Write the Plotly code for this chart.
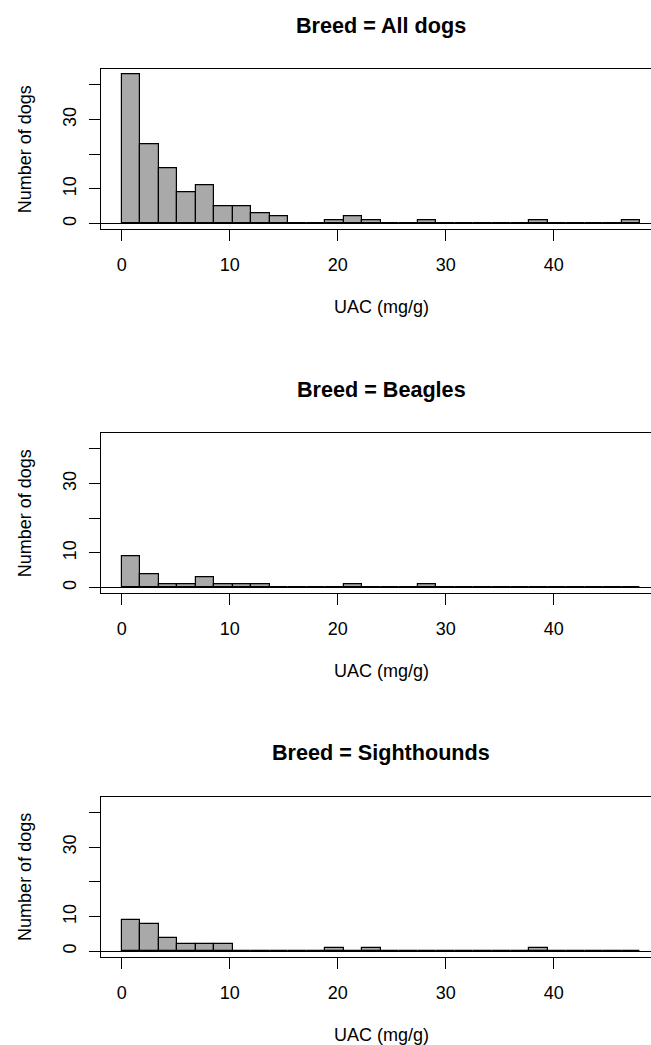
import plotly.graph_objects as go

# ---- data ----
BIN_WIDTH = 1.714          # histogram break spacing in UAC (mg/g)
N_BINS = 28
bin_left_edges = [i * BIN_WIDTH for i in range(N_BINS)]

panel_titles = ["Breed = All dogs", "Breed = Beagles", "Breed = Sighthounds"]

counts_all = [43, 23, 16, 9, 11, 5, 5, 3, 2, 0, 0, 1, 2, 1, 0, 0, 1, 0, 0, 0, 0, 0, 1, 0, 0, 0, 0, 1]
counts_beagles = [9, 4, 1, 1, 3, 1, 1, 1, 0, 0, 0, 0, 1, 0, 0, 0, 1, 0, 0, 0, 0, 0, 0, 0, 0, 0, 0, 0]
counts_sight = [9, 8, 4, 2, 2, 2, 0, 0, 0, 0, 0, 1, 0, 1, 0, 0, 0, 0, 0, 0, 0, 0, 1, 0, 0, 0, 0, 0]
panel_counts = [counts_all, counts_beagles, counts_sight]

x_tick_vals = [0, 10, 20, 30, 40]
x_tick_text = ["0", "10", "20", "30", "40"]
y_tick_vals = [0, 10, 20, 30, 40]
y_tick_text = ["0", "10", "", "30", ""]

x_title = "UAC (mg/g)"
y_title = "Number of dogs"

# ---- layout constants ----
W, H = 651, 1045
BOX_LEFT = 101
box_tops = [69.3, 433.3, 796.9]
BOX_H = 160.0
X_RANGE = [-1.917, 49.0]
Y_RANGE = [-1.62, 44.5]
FONT = "Liberation Sans, Arial, sans-serif"
BAR_FILL = "#A9A9A9"

fig = go.Figure()
annotations = []
centers = [e + BIN_WIDTH / 2 for e in bin_left_edges]

for i, (title, counts) in enumerate(zip(panel_titles, panel_counts)):
    idx = "" if i == 0 else str(i + 1)
    top = box_tops[i]
    bottom = top + BOX_H
    fig.add_trace(go.Bar(
        x=centers, y=counts, width=BIN_WIDTH,
        marker=dict(color=BAR_FILL, line=dict(color="black", width=1.2)),
        xaxis="x" + idx, yaxis="y" + idx, showlegend=False,
        hoverinfo="x+y",
    ))
    dom_y = [1 - bottom / H, 1 - top / H]
    fig.update_layout(**{
        "xaxis" + idx: dict(
            domain=[BOX_LEFT / W, 1.0], range=X_RANGE, anchor="y" + idx,
            showline=True, linecolor="black", linewidth=1.3, mirror=True,
            ticks="outside", ticklen=11, tickwidth=1.3, tickcolor="black",
            tickvals=x_tick_vals, ticktext=x_tick_text,
            tickfont=dict(family=FONT, size=18, color="black"),
            ticklabelstandoff=8,
            showgrid=False, zeroline=False, fixedrange=True,
        ),
        "yaxis" + idx: dict(
            domain=dom_y, range=Y_RANGE, anchor="x" + idx,
            showline=True, linecolor="black", linewidth=1.3, mirror=False,
            ticks="outside", ticklen=11, tickwidth=1.3, tickcolor="black",
            tickvals=y_tick_vals, ticktext=y_tick_text, tickangle=-90,
            tickfont=dict(family=FONT, size=18, color="black"),
            ticklabelstandoff=6,
            showgrid=False, zeroline=True, zerolinecolor="black", zerolinewidth=1.2,
            fixedrange=True,
        ),
    })
    # panel title
    annotations.append(dict(
        text="<b>%s</b>" % title, xref="paper", yref="paper",
        x=381 / W, y=1 - (top - 44) / H, xanchor="center", yanchor="middle",
        showarrow=False, font=dict(family=FONT, size=21.6, color="black"),
    ))
    # x axis title
    annotations.append(dict(
        text=x_title, xref="paper", yref="paper",
        x=381 / W, y=1 - (bottom + 78) / H, xanchor="center", yanchor="middle",
        showarrow=False, font=dict(family=FONT, size=18, color="black"),
    ))
    # y axis title
    annotations.append(dict(
        text=y_title, xref="paper", yref="paper", textangle=-90,
        x=25 / W, y=1 - (top + BOX_H / 2) / H, xanchor="center", yanchor="middle",
        showarrow=False, font=dict(family=FONT, size=18, color="black"),
    ))

fig.update_layout(
    width=W, height=H, margin=dict(l=0, r=0, t=0, b=0),
    paper_bgcolor="white", plot_bgcolor="white",
    bargap=0, annotations=annotations,
    font=dict(family=FONT, color="black"),
)

fig.write_html("out.html")
